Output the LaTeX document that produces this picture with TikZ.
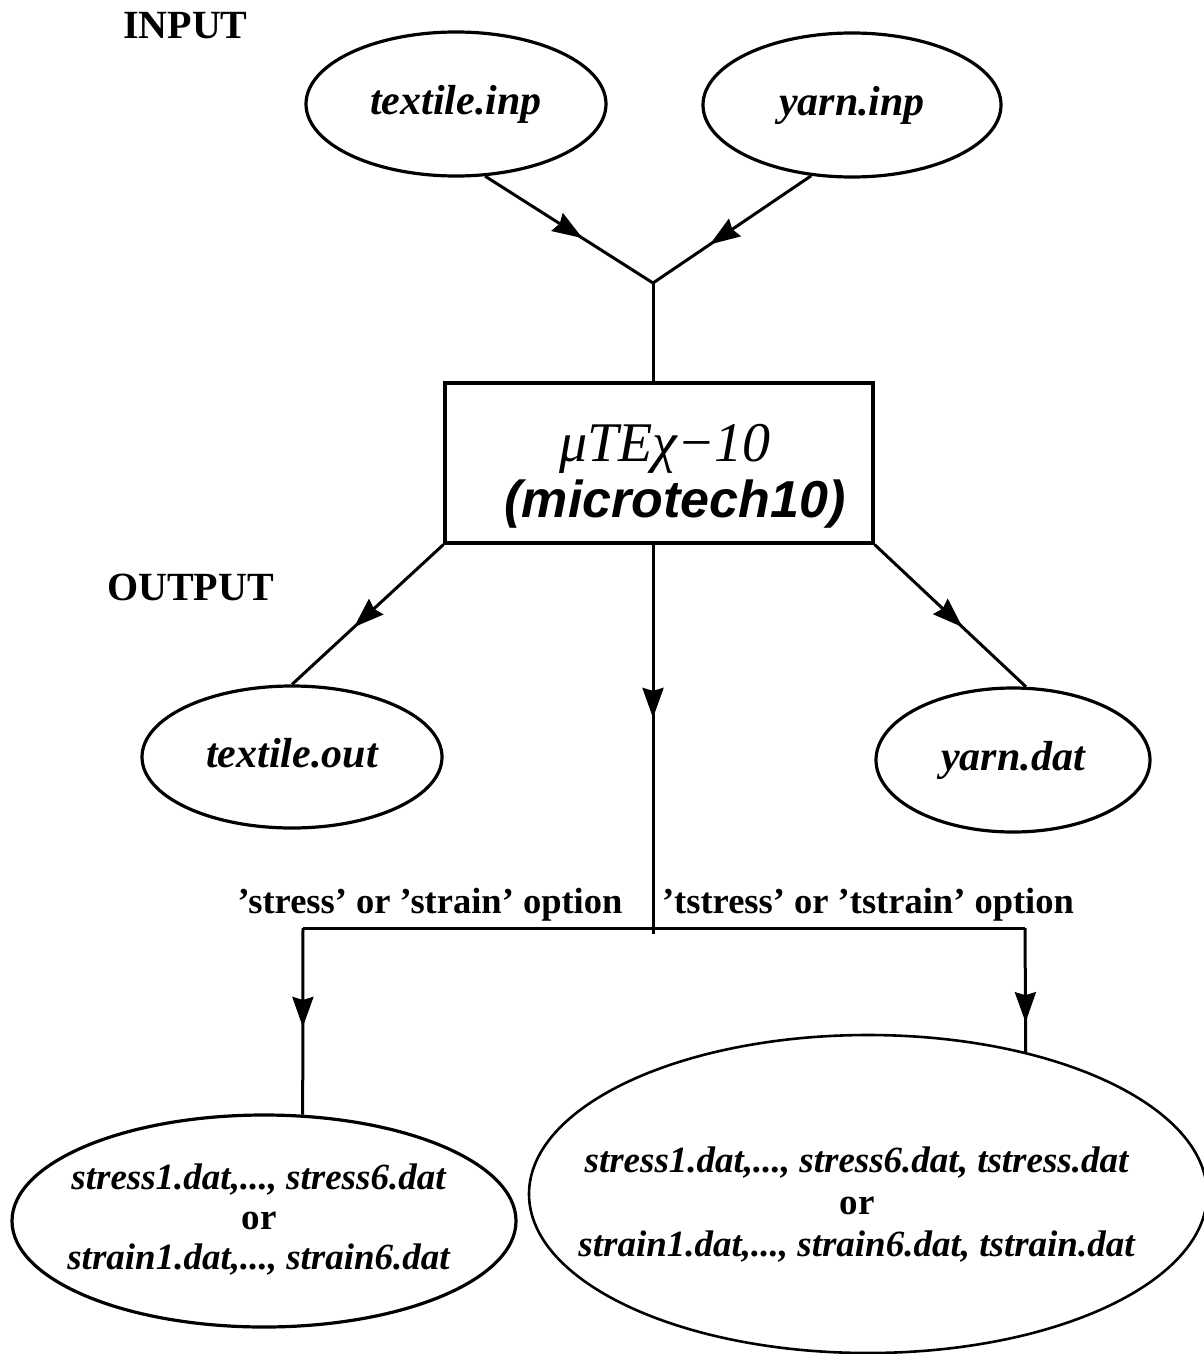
\documentclass[tikz,border=0pt]{standalone}
\usepackage{fontspec}
\setmainfont{Liberation Serif}
\newfontfamily\helv{Liberation Sans}
\usetikzlibrary{arrows.meta,shapes.geometric,decorations.markings}
\begin{document}
\begin{tikzpicture}[x=1pt,y=-1pt,
  ell/.style={draw,ellipse,line width=3.2pt,inner sep=0pt},
  fname/.style={ell,font=\fontsize{42}{50}\selectfont\bfseries\itshape,text height=29pt,text depth=8pt},
  conn/.style={line width=3pt},
  midarrow/.style={postaction={decorate,decoration={markings,
      mark=at position #1 with {\arrow{Stealth[length=30pt,width=21pt,inset=3pt]}}}}},
  headlbl/.style={font=\fontsize{40}{48}\selectfont\bfseries,inner sep=0pt,anchor=base west},
  optlbl/.style={font=\fontsize{36.5}{44}\selectfont\bfseries,inner sep=0pt,anchor=base},
  btxtl/.style={align=center,inner sep=0pt,font=\fontsize{37}{40}\selectfont\bfseries},
  btxtr/.style={align=center,inner sep=0pt,font=\fontsize{37}{42}\selectfont\bfseries}
]
\fill[white] (0,0) rectangle (1203,1354);
\useasboundingbox (0,0) rectangle (1203,1354);

% headings
\node[headlbl] (inlbl) at (123,39) {INPUT};
\node[headlbl] (outlbl) at (107,600) {OUTPUT};

% input files
\node[fname,minimum width=300pt,minimum height=144pt] (tin) at (456,104) {textile.inp};
\node[fname,minimum width=298pt,minimum height=144pt] (yin) at (852,105) {yarn.inp};

% program box
\node[draw,rectangle,line width=3.2pt,minimum width=428pt,minimum height=160pt] (box) at (659,463) {};
\node[anchor=base,inner sep=0pt,font=\fontsize{56}{60}\selectfont\itshape] (t1) at (665,461) {μTEχ−10};
\node[anchor=base,inner sep=0pt,font=\helv\bfseries\itshape\fontsize{52}{60}\selectfont] (t2) at (675,517) {(microtech10)};

% output files
\node[fname,minimum width=300pt,minimum height=142pt] (tout) at (292,757) {textile.out};
\node[fname,minimum width=274pt,minimum height=144pt] (ydat) at (1013,760) {yarn.dat};

% bottom ellipses
\node[ell,minimum width=504pt,minimum height=212pt] (sl) at (264,1221) {};
\node[btxtl] (slt) at (259,1220) {\textit{stress1.dat,..., stress6.dat}\\ or\\ \textit{strain1.dat,..., strain6.dat}};
\node[ell,line width=2.6pt,minimum width=678pt,minimum height=318pt] (sr) at (868,1194) {};
\node[btxtr] (srt) at (857,1205) {\textit{stress1.dat,..., stress6.dat, tstress.dat}\\ or\\ \textit{strain1.dat,..., strain6.dat, tstrain.dat}};

% option labels
\node[optlbl] (optl) at (430,913) {’stress’ or ’strain’ option};
\node[optlbl] (optr) at (868,913) {’tstress’ or ’tstrain’ option};

% connectors
\coordinate (J) at (653,283);
\draw[conn,midarrow=0.58] (tin.-68) -- (J);
\draw[conn,midarrow=0.64] (yin.-120) -- (J);
\draw[conn] (J) -- (J |- box.north);

\draw[conn,midarrow=0.59] (box.south west) -- (tout.north);
\draw[conn,midarrow=0.58] (box.south east) -- (ydat.80);

\coordinate (mend) at (653,934);
\draw[conn,midarrow=0.445] (J |- box.south) -- (mend);

\coordinate (L) at (303,928);
\coordinate (R) at (1025,928);
\draw[conn] (L) -- (R);
\draw[conn,midarrow=0.53] (L) -- (sl.70);
\draw[conn,midarrow=0.76] (R) -- (sr.42);
\end{tikzpicture}
\end{document}
